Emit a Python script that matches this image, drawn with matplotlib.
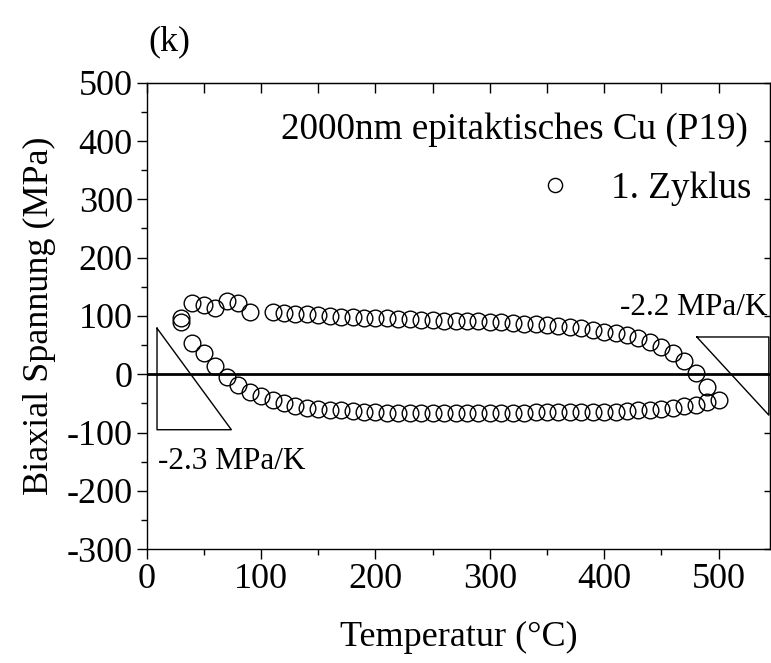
import numpy as np
import matplotlib
matplotlib.use("Agg")
import matplotlib.pyplot as plt
from matplotlib.ticker import MultipleLocator

plt.rcParams['font.family'] = ['Liberation Serif', 'DejaVu Serif']
plt.rcParams['axes.unicode_minus'] = False

# heating branch (lower), 30..500 C
t_heat = [30, 40, 50, 60, 70, 80, 90, 100, 110, 120, 130, 140, 150, 160, 170, 180, 190, 200,
          210, 220, 230, 240, 250, 260, 270, 280, 290, 300, 310, 320, 330, 340, 350, 360,
          370, 380, 390, 400, 410, 420, 430, 440, 450, 460, 470, 480, 490, 500]
s_heat = [89, 53, 37, 14, -4, -18, -30, -37, -44, -50, -54, -57, -60, -61, -62, -63, -65, -65,
          -66, -66, -67, -67, -67, -67, -67, -67, -67, -66, -66, -66, -66, -65, -65, -65,
          -65, -64, -64, -64, -64, -63, -62, -61, -59, -57, -55, -52, -47, -44]

# cooling branch (upper), 490..30 C
t_cool = [490, 480, 470, 460, 450, 440, 430, 420, 410, 400, 390, 380, 370, 360, 350, 340,
          330, 320, 310, 300, 290, 280, 270, 260, 250, 240, 230, 220, 210, 200, 190, 180,
          170, 160, 150, 140, 130, 120, 110, 90, 80, 70, 60, 50, 40, 30]
s_cool = [-21, 2, 22, 36, 47, 56, 62, 67, 70, 73, 76, 79, 81, 83, 84, 86,
          87, 88, 89, 90, 91, 91, 92, 92, 93, 93, 94, 95, 96, 97, 97, 98,
          99, 100, 101, 103, 104, 105, 107, 107, 123, 126, 113, 119, 122, 96]

# slope triangles
tri_left_x = [9, 9, 74, 9]
tri_left_y = [79, -95, -95, 79]
tri_right_x = [481, 544, 544, 481]
tri_right_y = [64, 64, -70, 64]

fig = plt.figure(figsize=(7.71, 6.63), dpi=100)
ax = fig.add_axes([0.1903, 0.1715, 0.8084, 0.7038])

ax.plot(np.r_[t_heat, t_cool], np.r_[s_heat, s_cool], 'o', mfc='none', mec='black',
        ms=12, mew=1.0, label='1. Zyklus')
ax.axhline(0, color='black', lw=2.0)
ax.plot(tri_left_x, tri_left_y, color='black', lw=1.0)
ax.plot(tri_right_x, tri_right_y, color='black', lw=1.0)

ax.text(10, -150, '-2.3 MPa/K', fontsize=22.5, ha='left', va='center')
ax.text(414, 114, '-2.2 MPa/K', fontsize=22.5, ha='left', va='center')

ax.set_xlim(0, 545)
ax.set_ylim(-300, 500)
ax.xaxis.set_major_locator(MultipleLocator(100))
ax.xaxis.set_minor_locator(MultipleLocator(50))
ax.yaxis.set_major_locator(MultipleLocator(100))
ax.yaxis.set_minor_locator(MultipleLocator(50))
ax.tick_params(which='both', direction='out', top=False, right=False, width=1.0)
ax.tick_params(which='major', length=7, labelsize=26, pad=3)
ax.tick_params(which='minor', length=4)
for s in ax.spines.values():
    s.set_linewidth(1.0)

sec = ax.secondary_xaxis('top')
sec.xaxis.set_major_locator(MultipleLocator(100))
sec.xaxis.set_minor_locator(MultipleLocator(50))
sec.tick_params(which='both', direction='in', labeltop=False, width=1.0)
sec.tick_params(which='major', length=7)
sec.tick_params(which='minor', length=7)
secy = ax.secondary_yaxis('right')
secy.yaxis.set_major_locator(MultipleLocator(100))
secy.yaxis.set_minor_locator(MultipleLocator(50))
secy.tick_params(which='both', direction='in', labelright=False, width=1.0)
secy.tick_params(which='major', length=4)
secy.tick_params(which='minor', length=0)

ax.set_xlabel('Temperatur (°C)', fontsize=26, labelpad=18)
ax.set_ylabel('Biaxial Spannung (MPa)', fontsize=26, labelpad=8)

ax.text(0.965, 0.899, '2000nm epitaktisches Cu (P19)', transform=ax.transAxes,
        fontsize=26.7, ha='right', va='center')
ax.legend(loc='upper right', bbox_to_anchor=(0.97, 0.81), frameon=False, fontsize=26.7,
          handlelength=1.4, handletextpad=0.8, borderpad=0, borderaxespad=0,
          markerscale=0.85)

fig.text(148 / 771, 1 - 42 / 663, '(k)', fontsize=26, ha='left', va='center')

fig.savefig('out.png', dpi=100)
